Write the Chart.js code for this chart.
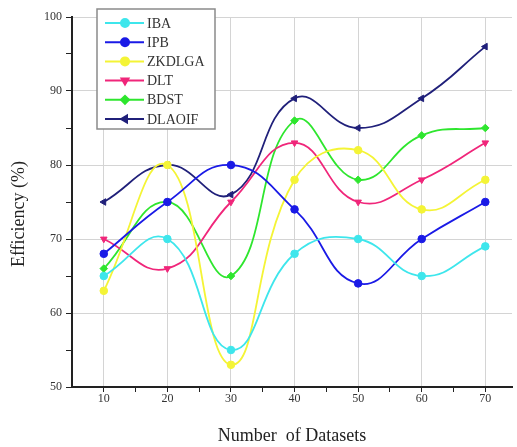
<!DOCTYPE html>
<html>
<head>
<meta charset="utf-8">
<script src="https://cdn.jsdelivr.net/npm/chart.js@4/dist/chart.umd.min.js"></script>
<style>
    html, body { margin: 0; padding: 0; background: #ffffff; }
    #wrap { width: 517px; height: 447px; }
</style>
</head>
<body>
<div id="wrap"><canvas id="efficiency-chart"></canvas></div>
<script>
// Define the chart data
const datasetCounts = [10, 20, 30, 40, 50, 60, 70];
const xTickValues = [10, 15, 20, 25, 30, 35, 40, 45, 50, 55, 60, 65, 70];
const yTickValues = [50, 55, 60, 65, 70, 75, 80, 85, 90, 95, 100];
const seriesNames = ['IBA', 'IPB', 'ZKDLGA', 'DLT', 'BDST', 'DLAOIF'];
const ibaValues = [65, 70, 55, 68, 70, 65, 69];
const ipbValues = [68, 75, 80, 74, 64, 70, 75];
const zkdlgaValues = [63, 80, 53, 78, 82, 74, 78];
const dltValues = [70, 66, 75, 83, 75, 78, 83];
const bdstValues = [66, 75, 65, 86, 78, 84, 85];
const dlaoifValues = [75, 80, 76, 89, 85, 89, 96];
const xAxisTitle = 'Number  of Datasets';
const yAxisTitle = 'Efficiency (%)';

// Define the series styles
const seriesValues = [ibaValues, ipbValues, zkdlgaValues, dltValues, bdstValues, dlaoifValues];
const seriesColors = ['#3ee6ec', '#1a1ae6', '#f4f436', '#f0267a', '#2ee62e', '#20207a'];
const seriesPoints = ['circle', 'circle', 'circle', 'triangle', 'rectRot', 'triangle'];
const seriesRotation = [0, 0, 0, 180, 0, 270];

const serif = 'Liberation Serif, Times New Roman, serif';

const datasets = seriesNames.map((name, i) => ({
    label: name,
    data: datasetCounts.map((x, j) => ({ x: x, y: seriesValues[i][j] })),
    borderColor: seriesColors[i],
    backgroundColor: seriesColors[i],
    borderWidth: 1.8,
    pointStyle: seriesPoints[i],
    rotation: seriesRotation[i],
    pointRadius: 3.8,
    pointBorderWidth: 1,
    tension: 0.45
}));

// Define the in-plot legend and the y axis title
const boxLegend = {
    id: 'boxLegend',
    afterDraw(chart) {
        const ctx = chart.ctx;
        const left = 97, top = 9, width = 118, height = 120;
        ctx.save();
        ctx.fillStyle = '#ffffff';
        ctx.fillRect(left, top, width, height);
        ctx.strokeStyle = '#8a8a8a';
        ctx.lineWidth = 1.5;
        ctx.strokeRect(left, top, width, height);
        ctx.font = '14px ' + serif;
        ctx.textBaseline = 'middle';
        chart.data.datasets.forEach((ds, i) => {
            const y = top + 14 + i * 19.2;
            ctx.strokeStyle = ds.borderColor;
            ctx.lineWidth = 2;
            ctx.beginPath();
            ctx.moveTo(105, y);
            ctx.lineTo(144, y);
            ctx.stroke();
            ctx.fillStyle = ds.backgroundColor;
            Chart.helpers.drawPoint(ctx, {
                pointStyle: ds.pointStyle,
                rotation: ds.rotation,
                radius: 4,
                borderWidth: 1
            }, 125, y);
            ctx.fillStyle = '#333333';
            ctx.fillText(ds.label, 147, y + 1);
        });

        // y axis title, a little below the plot centre as in the original
        ctx.translate(19, 214);
        ctx.rotate(-Math.PI / 2);
        ctx.font = '18px ' + serif;
        ctx.textAlign = 'center';
        ctx.fillStyle = '#222222';
        ctx.fillText(yAxisTitle, 0, 0);
        ctx.restore();
    }
};

const majorGrid = (ctx) => (ctx.tick && ctx.tick.value % 10 === 0) ? '#d4d4d4' : 'rgba(0,0,0,0)';

// Define the chart object
const chartCanvas = document.getElementById('efficiency-chart');
const efficiencyChart = new Chart(chartCanvas.getContext('2d'), {
    type: 'line',
    data: { datasets: datasets },
    options: {
        responsive: true,
        maintainAspectRatio: false,
        animation: false,
        layout: { padding: { top: 17, right: 1, left: 0, bottom: 0 } },
        plugins: {
            legend: { display: false },
            tooltip: { enabled: false }
        },
        scales: {
            x: {
                type: 'linear',
                min: 5,
                max: 74.2,
                afterBuildTicks: (scale) => {
                    scale.ticks = xTickValues.map(v => ({ value: v }));
                },
                afterFit: (scale) => { scale.height = 60; },
                border: { color: '#222222', width: 2 },
                grid: { color: majorGrid, tickColor: '#222222', tickLength: 5, lineWidth: 1 },
                ticks: {
                    padding: 0,
                    color: '#333333',
                    font: { family: serif, size: 12 },
                    callback: (v) => (v % 10 === 0 ? v : '')
                },
                title: {
                    display: true,
                    text: xAxisTitle,
                    color: '#222222',
                    font: { family: serif, size: 18 },
                    padding: { top: 14, bottom: 0 }
                }
            },
            y: {
                min: 50,
                max: 100,
                afterBuildTicks: (scale) => {
                    scale.ticks = yTickValues.map(v => ({ value: v }));
                },
                afterFit: (scale) => { scale.width = 72; },
                border: { color: '#222222', width: 2 },
                grid: { color: majorGrid, tickColor: '#222222', tickLength: 6, lineWidth: 1 },
                ticks: {
                    padding: 4,
                    color: '#333333',
                    font: { family: serif, size: 12 },
                    callback: (v) => (v % 10 === 0 ? v : '')
                }
            }
        }
    },
    plugins: [boxLegend]
});
</script>
</body>
</html>
